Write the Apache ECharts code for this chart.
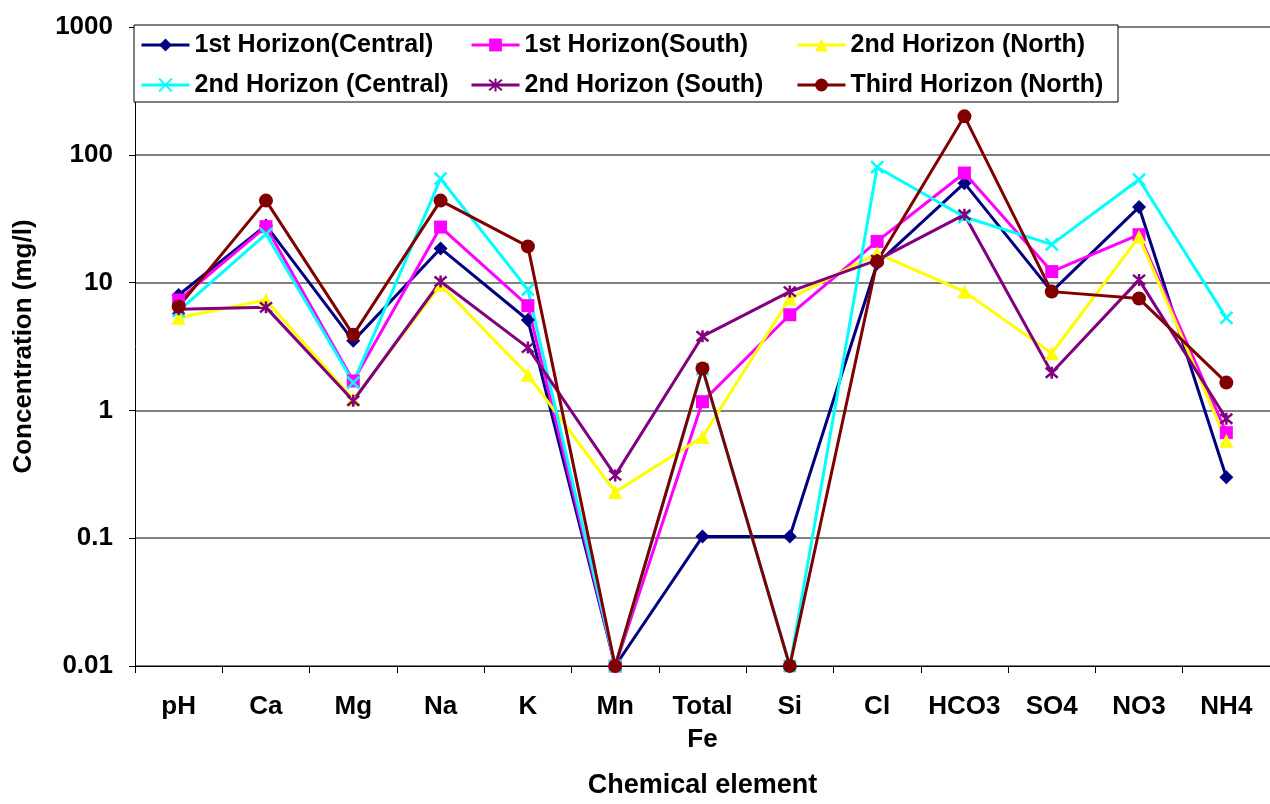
<!DOCTYPE html>
<html>
<head>
<meta charset="utf-8">
<script src="https://cdn.jsdelivr.net/npm/echarts@6/dist/echarts.min.js"></script>
<style>
html,body{margin:0;padding:0;background:#fff;}
#chart{width:1270px;height:804px;}
</style>
</head>
<body>
<div id="chart"></div>
<script>
const categories = ['pH','Ca','Mg','Na','K','Mn','Total\nFe','Si','Cl','HCO3','SO4','NO3','NH4'];

const firstCentral  = [8.0, 28, 3.5, 18.5, 5.1, 0.01, 0.103, 0.103, 14.1, 60, 8.5, 39, 0.30];
const firstSouth    = [7.3, 27.4, 1.7, 27.2, 6.6, 0.01, 1.17, 5.6, 21, 72, 12.2, 23.7, 0.67];
const secondNorth   = [5.3, 7.3, 1.22, 9.6, 1.9, 0.23, 0.62, 7.5, 16.9, 8.5, 2.8, 22.8, 0.58];
const secondCentral = [6.0, 24, 1.65, 65, 8.8, 0.01, 2.1, 0.01, 80, 32.6, 19.9, 64, 5.3];
const secondSouth   = [6.2, 6.4, 1.19, 10.2, 3.1, 0.31, 3.8, 8.5, 15, 34, 1.97, 10.5, 0.86];
const thirdNorth    = [6.5, 43.8, 3.9, 43.8, 19.2, 0.01, 2.13, 0.01, 14.6, 200, 8.5, 7.5, 1.65];

const seriesNames = ['1st Horizon(Central)','1st Horizon(South)','2nd Horizon (North)',
                     '2nd Horizon (Central)','2nd Horizon (South)','Third Horizon (North)'];
const yTicks = ['0.01','0.1','1','10','100','1000'];

const FONT = '"Liberation Sans", Arial, sans-serif';
const chart = echarts.init(document.getElementById('chart'));

function mk(name, data, color, symbol, size, extra) {
  return Object.assign({
    name, type: 'line', data, symbol, symbolSize: size,
    lineStyle: { color, width: 3 },
    itemStyle: { color },
    emphasis: { disabled: true },
    animation: false
  }, extra || {});
}

const legendCommon = {
  orient: 'vertical', itemWidth: 48, itemHeight: 16, itemGap: 14,
  selectedMode: false,
  lineStyle: { width: 3 },
  textStyle: { fontFamily: FONT, fontSize: 25, fontWeight: 'bold', color: '#000', lineHeight: 26 },
  top: 27
};

chart.setOption({
  backgroundColor: '#fff',
  textStyle: { fontFamily: FONT },
  grid: { left: 135, right: 0, top: 27, bottom: 132, containLabel: false },
  legend: [
    Object.assign({}, legendCommon, { left: 135, data: [seriesNames[0], seriesNames[3]] }),
    Object.assign({}, legendCommon, { left: 465, data: [seriesNames[1], seriesNames[4]] }),
    Object.assign({}, legendCommon, { left: 791, data: [seriesNames[2], seriesNames[5]] })
  ],
  graphic: [{
    type: 'rect', z: 3,
    shape: { x: 134, y: 25, width: 984, height: 77 },
    style: { fill: '#fff', stroke: '#000', lineWidth: 1 }
  }],
  xAxis: {
    type: 'category', data: categories, boundaryGap: true,
    axisLine: { lineStyle: { color: '#000', width: 1 } },
    axisTick: { show: true, interval: 0, length: 7, lineStyle: { color: '#000' } },
    axisLabel: { interval: 0, margin: 24, color: '#000', fontSize: 26, fontWeight: 'bold', fontFamily: FONT, lineHeight: 33 },
    name: 'Chemical element', nameLocation: 'middle', nameGap: 106,
    nameTextStyle: { color: '#000', fontSize: 27, fontWeight: 'bold', fontFamily: FONT },
    splitLine: { show: false }
  },
  yAxis: {
    type: 'log', logBase: 10, min: 0.01, max: 1000,
    axisLine: { show: true, lineStyle: { color: '#000', width: 1 } },
    axisTick: { show: true, length: 6, lineStyle: { color: '#000' } },
    minorTick: { show: false },
    axisLabel: {
      margin: 22, color: '#000', fontSize: 26, fontWeight: 'bold', fontFamily: FONT,
      formatter: function (v) {
        const e = Math.round(Math.log10(v));
        return yTicks[e + 2] !== undefined ? yTicks[e + 2] : String(v);
      }
    },
    splitLine: { show: true, lineStyle: { color: '#808080', width: 2 } },
    name: 'Concentration (mg/l)', nameLocation: 'middle', nameGap: 98, nameRotate: 90,
    nameTextStyle: { color: '#000', fontSize: 26, fontWeight: 'bold', fontFamily: FONT }
  },
  series: [
    mk(seriesNames[0], firstCentral, '#000080', 'diamond', 14),
    mk(seriesNames[1], firstSouth, '#FF00FF', 'rect', 13),
    mk(seriesNames[2], secondNorth, '#FFFF00', 'triangle', 14),
    mk(seriesNames[3], secondCentral, '#00FFFF', 'path://M0,0L10,10M10,0L0,10', 12,
       { itemStyle: { color: '#00FFFF', borderColor: '#00FFFF', borderWidth: 2.5 } }),
    mk(seriesNames[4], secondSouth, '#800080', 'path://M0,0L10,10M10,0L0,10M5,-1L5,11', 12,
       { itemStyle: { color: '#800080', borderColor: '#800080', borderWidth: 2.5 } }),
    mk(seriesNames[5], thirdNorth, '#800000', 'circle', 14)
  ]
});
</script>
</body>
</html>
